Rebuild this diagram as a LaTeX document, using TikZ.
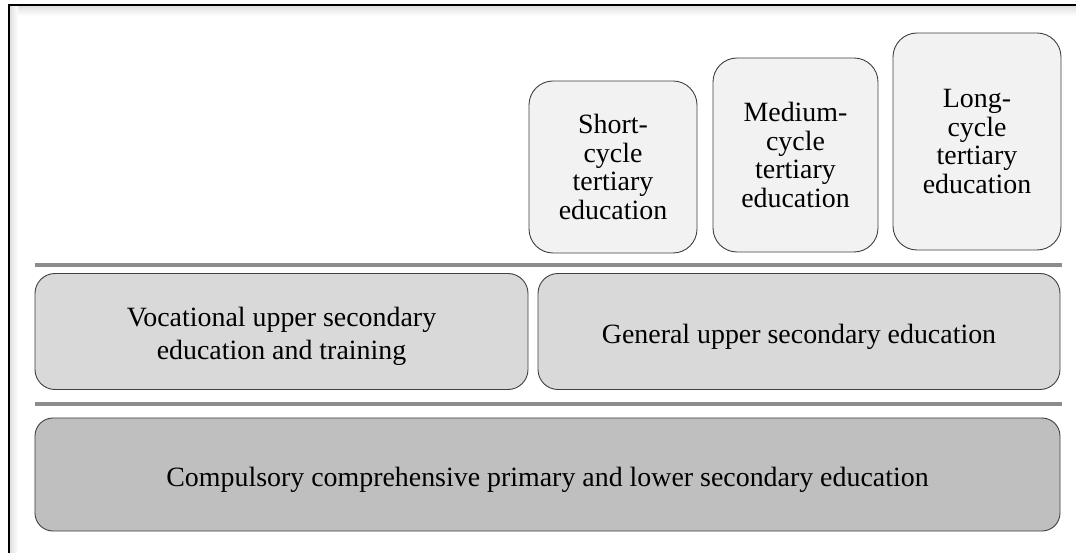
\documentclass[tikz,border=0pt]{standalone}
\usepackage{fontspec}
\setmainfont{Liberation Serif}
\begin{document}
\begin{tikzpicture}[x=1bp,y=-1bp,
  box/.style={draw=black!75, line width=0.9bp, align=center, inner sep=0pt,
    font=\fontsize{28}{29}\selectfont},
  tertiary/.style={box, fill=black!5, rounded corners=24bp},
  upper/.style={box, fill=black!15, rounded corners=20bp},
  basic/.style={box, fill=black!25, rounded corners=18bp},
  caption/.style={align=center, inner sep=0pt, yshift=-5bp,
    font=\fontsize{28}{33}\selectfont},
  divider/.style={draw=black!45, line width=3.5bp}]
\useasboundingbox (0,0) rectangle (1076,553);
\fill[white] (0,0) rectangle (1076,553);
% soft shadow along the frame
\shade[top color=black!12, bottom color=white] (10,6) rectangle (1076,16);
\shade[left color=black!12, right color=white] (10,6) rectangle (18,553);
% frame: top and left edges
\draw[black, line width=2bp] (9,553) -- (9,5) -- (1076,5);

% tertiary level
\node[tertiary, minimum width=168bp, minimum height=172bp] (short) at (613,167)
  {Short-\\cycle\\tertiary\\education};
\node[tertiary, minimum width=165bp, minimum height=194bp] (medium) at (795.5,155)
  {Medium-\\cycle\\tertiary\\education};
\node[tertiary, minimum width=168bp, minimum height=217bp] (long) at (977,141.5)
  {Long-\\cycle\\tertiary\\education};

\draw[divider] (35,265) -- (1062,265);

% upper secondary level
\node[upper, minimum width=493bp, minimum height=116bp] (voc) at (281.5,331.5) {};
\node[caption] (voc-text) at (voc.center) {Vocational upper secondary\\education and training};
\node[upper, minimum width=522bp, minimum height=116bp] (gen) at (799,331.5) {};
\node[caption] (gen-text) at (gen.center) {General upper secondary education};

\draw[divider] (35,404) -- (1062,404);

% compulsory level
\node[basic, minimum width=1025bp, minimum height=113bp] (comp) at (547.5,474.5) {};
\node[caption] (comp-text) at (comp.center)
  {Compulsory comprehensive primary and lower secondary education};
\end{tikzpicture}
\end{document}
